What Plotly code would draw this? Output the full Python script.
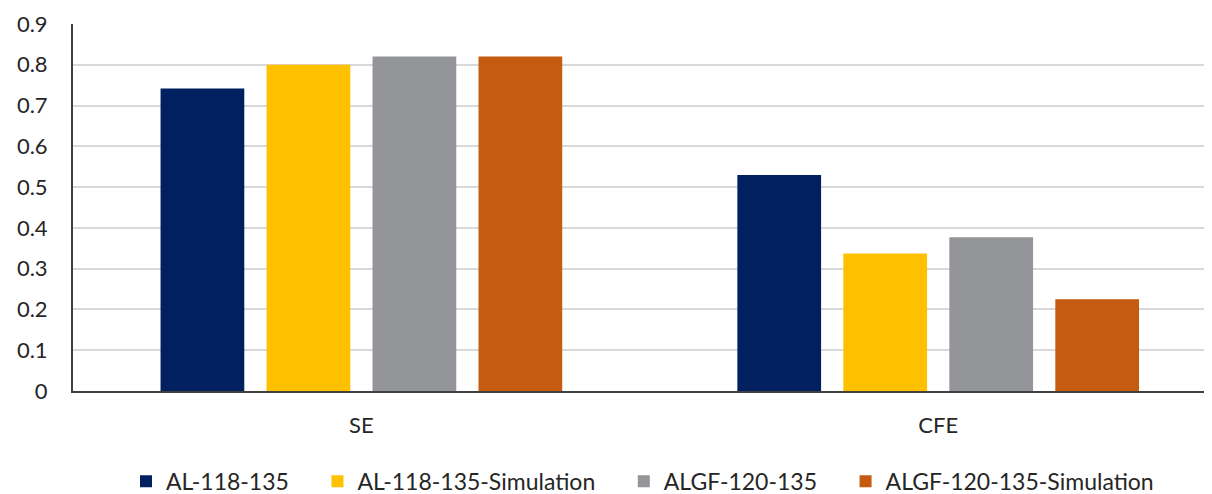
import plotly.graph_objects as go

categories = ["SE", "CFE"]
series_names = ["AL-118-135", "AL-118-135-Simulation", "ALGF-120-135", "ALGF-120-135-Simulation"]
al_118 = [0.742, 0.530]
al_118_sim = [0.800, 0.337]
algf_120 = [0.820, 0.377]
algf_120_sim = [0.820, 0.225]
y_ticks = [0, 0.1, 0.2, 0.3, 0.4, 0.5, 0.6, 0.7, 0.8, 0.9]
y_tick_labels = ["0", "0.1", "0.2", "0.3", "0.4", "0.5", "0.6", "0.7", "0.8", "0.9"]

colors = ["#002060", "#FFC000", "#939598", "#C55A11"]
values = [al_118, al_118_sim, algf_120, algf_120_sim]

pad = "\u00a0" * 4  # extra spacing between legend entries

fig = go.Figure()
for i, (name, vals, col) in enumerate(zip(series_names, values, colors)):
    label = name + (pad if i < len(series_names) - 1 else "")
    fig.add_trace(go.Bar(x=categories, y=vals, name=label, marker=dict(color=col, line=dict(width=0))))

font_family = "Lato, 'Open Sans', sans-serif"
fig.update_layout(
    width=1204, height=486,
    margin=dict(l=65, r=0, t=16, b=103, pad=0, autoexpand=False),
    paper_bgcolor="white", plot_bgcolor="white",
    barmode="group", bargap=0.265, bargroupgap=0.21,
    font=dict(family=font_family, size=22, color="#262626"),
    showlegend=True,
    legend=dict(orientation="h", x=0.5, xanchor="center", y=-0.246, yanchor="middle",
                font=dict(size=23, color="#262626"), itemwidth=30, tracegroupgap=0,
                itemsizing="constant"),
    xaxis=dict(range=[-0.5, 1.4747], showgrid=False, showline=True, linecolor="#404040", linewidth=2,
               ticks="", ticklabelstandoff=14, tickfont=dict(size=22), automargin=False),
    yaxis=dict(range=[0, 0.9], tickvals=y_ticks, ticktext=y_tick_labels, showgrid=True,
               gridcolor="#D9D9D9", gridwidth=2, showline=True, linecolor="#404040", linewidth=2,
               ticks="", ticklabelstandoff=19, zeroline=False, tickfont=dict(size=22), automargin=False),
)
fig.write_html("out.html")
